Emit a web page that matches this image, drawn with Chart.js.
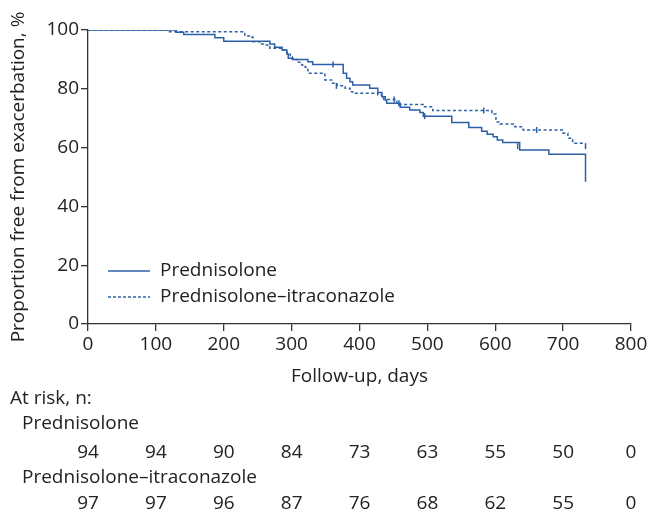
<!DOCTYPE html>
<html>
<head>
<meta charset="utf-8">
<script src="https://cdn.jsdelivr.net/npm/chart.js@4.4.1/dist/chart.umd.min.js"></script>
<style>
  html, body { margin: 0; padding: 0; background: #fff; }
  #wrap { width: 651px; height: 513px; }
</style>
</head>
<body>
<div id="wrap"><canvas id="km" width="651" height="513"></canvas></div>
<script>
// Kaplan-Meier data (day, % free from exacerbation)
const predDays = [0, 130, 141, 187, 200, 268, 275, 286, 293, 295, 302, 324, 331, 376, 381, 386, 390, 415, 427, 433, 438, 440, 460, 474, 489, 494, 536, 561, 580, 588, 597, 603, 611, 636, 679, 733, 733];
const predSurv = [100, 99.2, 98.5, 97.4, 96.2, 95.2, 94.1, 93.2, 91.8, 90.4, 90.0, 89.2, 88.3, 85.3, 83.6, 82.4, 81.3, 80.2, 78.7, 77.3, 76.2, 75.1, 73.7, 72.8, 71.9, 70.7, 68.5, 66.8, 65.6, 64.5, 63.7, 62.6, 61.7, 59.2, 57.7, 57.7, 48.4];

const itraDays = [0, 120, 231, 241, 243, 253, 261, 268, 287, 293, 298, 301, 308, 315, 320, 324, 349, 359, 367, 379, 386, 390, 427, 433, 436, 455, 458, 494, 508, 595, 601, 607, 629, 641, 700, 707, 714, 733];
const itraSurv = [100, 99.4, 98.0, 97.6, 96.0, 95.2, 94.9, 93.8, 93.2, 92.1, 90.9, 90.0, 89.0, 88.1, 87.3, 85.3, 83.0, 81.9, 81.0, 80.2, 79.0, 78.5, 77.9, 76.8, 76.4, 75.1, 74.7, 73.9, 72.6, 71.4, 68.7, 68.0, 67.1, 66.0, 64.9, 63.2, 61.5, 61.5];

// censoring ticks
const predCensDays = [361, 458, 496, 633];
const predCensSurv = [88.3, 75.1, 70.7, 60.5];
const itraCensDays = [366, 451, 583, 661, 733];
const itraCensSurv = [81.0, 76.4, 72.6, 66.0, 60.5];

// at-risk table
const riskDays = [0, 100, 200, 300, 400, 500, 600, 700, 800];
const riskPred = [94, 94, 90, 84, 73, 63, 55, 50, 0];
const riskItra = [97, 97, 96, 87, 76, 68, 62, 55, 0];

const seriesNames = ["Prednisolone", "Prednisolone\u2013itraconazole"];

const BLUE = "#2c5fa5";
const INK = "#222";
const FONT = "'Open Sans', 'Noto Sans', sans-serif";
const FS = 19;

function toPoints(xs, ys) {
  return xs.map((x, i) => ({ x: x, y: ys[i] }));
}

// draws legend inside the plot, the x title and the at-risk rows
const extras = {
  id: "extras",
  afterDraw(chart) {
    const ctx = chart.ctx;
    const xs = chart.scales.x;
    ctx.save();
    ctx.fillStyle = INK;
    ctx.font = FS + "px " + FONT;
    ctx.textBaseline = "middle";

    // legend
    const dashes = [[], [3, 2]];
    [271, 297].forEach((y, i) => {
      ctx.strokeStyle = BLUE;
      ctx.lineWidth = 1.3;
      ctx.setLineDash(dashes[i]);
      ctx.beginPath();
      ctx.moveTo(108, y);
      ctx.lineTo(150, y);
      ctx.stroke();
      ctx.setLineDash([]);
      ctx.textAlign = "left";
      ctx.fillText(seriesNames[i], 160, y);
    });

    // x title
    ctx.textAlign = "center";
    ctx.fillText("Follow-up, days", (xs.left + xs.right) / 2, 377);

    // at risk table
    ctx.textAlign = "left";
    ctx.fillText("At risk, n:", 10, 399);
    ctx.fillText(seriesNames[0], 22, 424);
    ctx.fillText(seriesNames[1], 22, 478);
    ctx.textAlign = "center";
    riskDays.forEach((d, i) => {
      const px = xs.getPixelForValue(d);
      ctx.fillText(String(riskPred[i]), px, 453);
      ctx.fillText(String(riskItra[i]), px, 504);
    });
    ctx.restore();
  },
};

new Chart(document.getElementById("km"), {
  type: "line",
  data: {
    datasets: [
      {
        label: seriesNames[0],
        data: toPoints(predDays, predSurv),
        borderColor: BLUE,
        borderWidth: 1.5,
        stepped: true,
        pointRadius: 0,
        fill: false,
      },
      {
        label: seriesNames[1],
        data: toPoints(itraDays, itraSurv),
        borderColor: BLUE,
        borderWidth: 1.5,
        borderDash: [3, 2.5],
        stepped: true,
        pointRadius: 0,
        fill: false,
      },
      {
        type: "scatter",
        label: "censored 1",
        data: toPoints(predCensDays, predCensSurv),
        showLine: false,
        pointStyle: "line",
        rotation: 90,
        pointRadius: 3,
        borderColor: BLUE,
        borderWidth: 1.5,
      },
      {
        type: "scatter",
        label: "censored 2",
        data: toPoints(itraCensDays, itraCensSurv),
        showLine: false,
        pointStyle: "line",
        rotation: 90,
        pointRadius: 3,
        borderColor: BLUE,
        borderWidth: 1.5,
      },
    ],
  },
  options: {
    responsive: false,
    animation: false,
    layout: { padding: { top: 30, right: 20, left: 0, bottom: 0 } },
    plugins: {
      legend: { display: false },
      tooltip: { enabled: false },
    },
    scales: {
      x: {
        type: "linear",
        min: 0,
        max: 800,
        afterFit: (scale) => { scale.height = 189; },
        border: { display: true, color: "#333", width: 1.3 },
        grid: { display: true, drawOnChartArea: false, drawTicks: true, tickLength: 7, color: "#333", lineWidth: 1.3 },
        ticks: { stepSize: 100, color: INK, padding: 2, font: { family: FONT, size: FS } },
      },
      y: {
        min: 0,
        max: 100,
        afterFit: (scale) => { scale.width = 88; },
        border: { display: true, color: "#333", width: 1.3 },
        grid: { display: true, drawOnChartArea: false, drawTicks: true, tickLength: 7, color: "#333", lineWidth: 1.3 },
        ticks: { stepSize: 20, color: INK, padding: 2, font: { family: FONT, size: FS } },
        title: {
          display: true,
          text: "Proportion free from exacerbation, %",
          color: INK,
          font: { family: FONT, size: FS },
          padding: { top: 7, bottom: 0 },
        },
      },
    },
  },
  plugins: [extras],
});
</script>
</body>
</html>
